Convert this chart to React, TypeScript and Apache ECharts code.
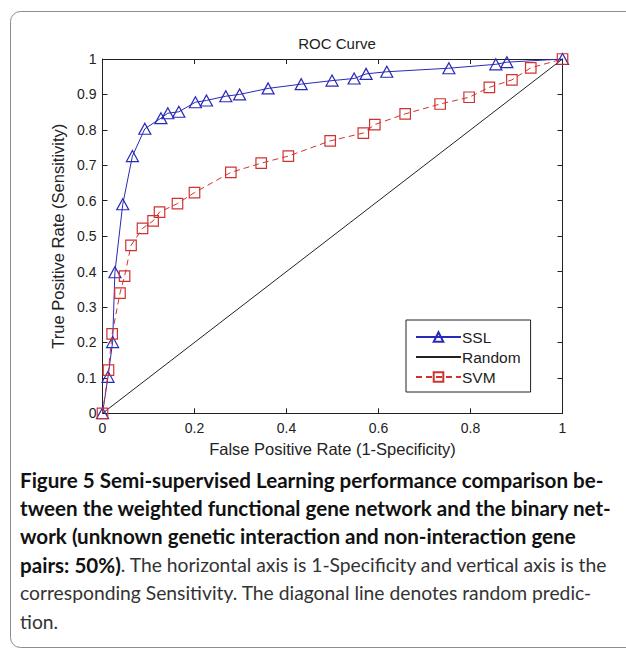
import React, { useEffect, useRef } from "react";
import * as echarts from "echarts";

const titleText = "ROC Curve";
const xName = "False Positive Rate (1-Specificity)";
const yName = "True Positive Rate (Sensitivity)";

const sslX = [0, 0.012, 0.022, 0.027, 0.044, 0.065, 0.092, 0.127, 0.142, 0.166, 0.202, 0.226, 0.268, 0.298, 0.36, 0.432, 0.499, 0.547, 0.573, 0.618, 0.753, 0.855, 0.879, 1.0];
const sslY = [0, 0.103, 0.201, 0.398, 0.59, 0.726, 0.803, 0.833, 0.847, 0.851, 0.878, 0.883, 0.895, 0.9, 0.917, 0.929, 0.939, 0.945, 0.958, 0.964, 0.974, 0.985, 0.991, 1.0];

const svmX = [0, 0.013, 0.021, 0.038, 0.048, 0.062, 0.087, 0.11, 0.124, 0.163, 0.2, 0.279, 0.345, 0.404, 0.495, 0.567, 0.592, 0.658, 0.734, 0.797, 0.841, 0.89, 0.931, 1.0];
const svmY = [0, 0.122, 0.224, 0.339, 0.387, 0.474, 0.522, 0.543, 0.568, 0.592, 0.623, 0.68, 0.706, 0.726, 0.769, 0.791, 0.815, 0.845, 0.873, 0.892, 0.92, 0.941, 0.975, 1.0];

const randomX = [0, 1];
const randomY = [0, 1];

const captionLines = [
  "{b|Figure 5 Semi-supervised Learning performance comparison be-}",
  "{b|tween the weighted functional gene network and the binary net-}",
  "{b|work (unknown genetic interaction and non-interaction gene}",
  "{b|pairs: 50%)}{r|. The horizontal axis is 1-Specificity and vertical axis is the}",
  "{r|corresponding Sensitivity. The diagonal line denotes random predic-}",
  "{r|tion.}",
];

const zip = (xs: number[], ys: number[]) => xs.map((x, i) => [x, ys[i]]);

export default function App() {
  const ref = useRef<HTMLDivElement>(null);
  useEffect(() => {
    if (!ref.current) return;
    const chart = echarts.init(ref.current, null, { renderer: "svg" });
    const font = "Liberation Sans, Arial, sans-serif";
    const capFont = "Lato, sans-serif";
    const blue = "#2a2ab8";
    const red = "#d03232";
    const axisCommon = {
      min: 0,
      max: 1,
      splitLine: { show: false },
      axisLine: { show: true, onZero: false, lineStyle: { color: "#222", width: 1 } },
      axisTick: { show: true, inside: true, length: 5, lineStyle: { color: "#222" } },
    };
    chart.setOption({
      animation: false,
      backgroundColor: "#fff",
      title: {
        text: titleText,
        left: 332,
        top: 31,
        textAlign: "center",
        textStyle: { fontFamily: font, fontSize: 15, fontWeight: "normal", color: "#222" },
      },
      grid: { left: 102.5, right: 63.5, top: 59, bottom: 235.7 },
      legend: {
        orient: "vertical",
        left: 406,
        top: 320,
        itemWidth: 45,
        itemHeight: 12,
        itemGap: 4,
        padding: [9, 10, 7, 9],
        borderColor: "#222",
        borderWidth: 1,
        backgroundColor: "#fff",
        textStyle: { fontFamily: font, fontSize: 15.5, color: "#222", padding: [0, 0, 0, -4] },
        data: [
          { name: "SSL" },
          { name: "Random", itemStyle: { opacity: 0 } },
          { name: "SVM" },
        ],
      },
      xAxis: [
        {
          ...axisCommon,
          type: "value",
          position: "bottom",
          interval: 0.2,
          name: xName,
          nameLocation: "middle",
          nameGap: 22,
          nameTextStyle: { fontFamily: font, fontSize: 16.5, color: "#222" },
          axisLabel: { fontFamily: font, fontSize: 14, color: "#222", margin: 8 },
        },
        {
          ...axisCommon,
          type: "value",
          position: "top",
          interval: 0.2,
          axisLabel: { show: false },
        },
      ],
      yAxis: [
        {
          ...axisCommon,
          type: "value",
          position: "left",
          interval: 0.1,
          name: yName,
          nameLocation: "middle",
          nameGap: 26,
          nameTextStyle: { fontFamily: font, fontSize: 16.5, color: "#222" },
          axisLabel: { fontFamily: font, fontSize: 14, color: "#222", margin: 6 },
        },
        {
          ...axisCommon,
          type: "value",
          position: "right",
          interval: 0.1,
          axisLabel: { show: false },
        },
      ],
      series: [
        {
          name: "SSL",
          type: "line",
          data: zip(sslX, sslY),
          symbol: "triangle",
          symbolSize: [12, 11],
          lineStyle: { color: blue, width: 1 },
          itemStyle: { color: "rgba(255,255,255,0)", borderColor: blue, borderWidth: 1.2 },
          z: 3,
        },
        {
          name: "Random",
          type: "line",
          data: zip(randomX, randomY),
          showSymbol: false,
          symbol: "none",
          lineStyle: { color: "#222", width: 1 },
          itemStyle: { color: "#222" },
          z: 2,
        },
        {
          name: "SVM",
          type: "line",
          data: zip(svmX, svmY),
          symbol: "rect",
          symbolSize: 10.5,
          lineStyle: { color: red, width: 1, type: [6, 4] },
          itemStyle: { color: "rgba(255,255,255,0)", borderColor: red, borderWidth: 1.2 },
          z: 4,
        },
      ],
      graphic: [
        {
          type: "rect",
          shape: { x: 10.5, y: 11.5, width: 660, height: 636, r: 10 },
          style: { fill: "none", stroke: "#8c8c8c", lineWidth: 1 },
          silent: true,
          z: -1,
        },
        ...captionLines.map((t, i) => ({
          type: "text",
          x: 20,
          y: 480 + i * 28.2,
          style: {
            text: t,
            verticalAlign: "middle",
            rich: {
              b: { fontFamily: capFont, fontSize: 20.6, fontWeight: "bold", fill: "#111" },
              r: { fontFamily: capFont, fontSize: 19.3, fontWeight: "normal", fill: "#333" },
            },
          },
        })),
      ],
    });
    return () => chart.dispose();
  }, []);
  return (
    <div
      ref={ref}
      style={{ position: "fixed", left: 0, top: 0, width: 626, height: 649, background: "#fff" }}
    />
  );
}
